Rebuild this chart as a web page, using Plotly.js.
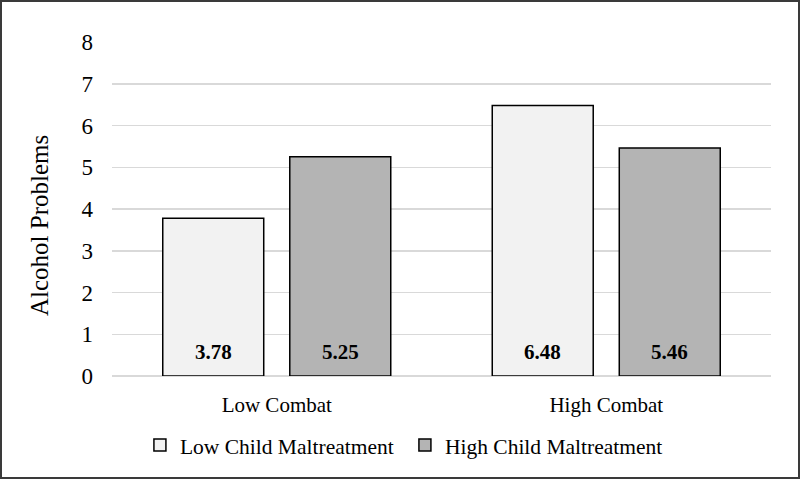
<!DOCTYPE html>
<html>
<head>
<meta charset="utf-8">
<script src="https://cdn.plot.ly/plotly-3.0.1.min.js"></script>
<style>
html,body{margin:0;padding:0;background:#fff;}
#wrap{position:relative;width:800px;height:479px;}
#chart{width:800px;height:479px;}
#frame{position:absolute;left:0;top:0;width:800px;height:479px;box-sizing:border-box;border:2px solid #3a3a3a;pointer-events:none;}
</style>
</head>
<body>
<div id="wrap"><div id="chart"></div><div id="frame"></div></div>
<script>
const categories = ["Low Combat", "High Combat"];
const seriesNames = ["Low Child Maltreatment", "High Child Maltreatment"];
const lowMaltreatment = [3.78, 6.48];
const highMaltreatment = [5.25, 5.46];
const yTicks = [0, 1, 2, 3, 4, 5, 6, 7, 8];
const yTitle = "Alcohol Problems";

const font = "Liberation Serif, Times New Roman, serif";
const traces = [
  {type: "bar", name: seriesNames[0], x: categories, y: lowMaltreatment,
   marker: {color: "#f2f2f2", line: {color: "#000", width: 1.5}}, hoverinfo: "none"},
  {type: "bar", name: seriesNames[1], x: categories, y: highMaltreatment,
   marker: {color: "#b4b4b4", line: {color: "#000", width: 1.5}}, hoverinfo: "none"}
];

const annotations = [];
[lowMaltreatment, highMaltreatment].forEach((vals, si) => {
  vals.forEach((v, ci) => {
    annotations.push({
      x: categories[ci], y: 0, xref: "x", yref: "y",
      xshift: si === 0 ? -63.5 : 63.5, yshift: 24,
      yanchor: "middle", showarrow: false,
      text: "<b>" + v.toFixed(2) + "</b>",
      font: {family: font, size: 21, color: "#000"}
    });
  });
});
annotations.push({
  xref: "paper", yref: "paper", x: 0, y: 0.5, xshift: -73, yshift: -17,
  xanchor: "center", yanchor: "middle", textangle: -90, showarrow: false,
  text: yTitle, font: {family: font, size: 25, color: "#000"}
});

const layout = {
  width: 800, height: 479,
  margin: {l: 112, r: 29, t: 42, b: 103},
  paper_bgcolor: "#fff", plot_bgcolor: "#fff",
  font: {family: font, color: "#000", size: 21},
  barmode: "group", bargap: 0.229, bargroupgap: 0.205,
  showlegend: true,
  legend: {orientation: "h", x: 0.4445, xanchor: "center", y: -0.207, yanchor: "middle",
           font: {family: font, size: 21.5}, itemwidth: 30, traceorder: "normal",
           entrywidth: 220},
  xaxis: {type: "category", showgrid: false, showline: false, ticks: "",
          tickfont: {family: font, size: 21}, zeroline: false, ticklabelstandoff: 14},
  yaxis: {range: [0, 8], tickvals: yTicks, showgrid: true, gridcolor: "#d9d9d9", gridwidth: 1.5,
          zeroline: true, zerolinecolor: "#d9d9d9", zerolinewidth: 1.5, showline: false, ticks: "",
          tickfont: {family: font, size: 23}, ticklabelstandoff: 18},
  annotations: annotations
};
Plotly.newPlot("chart", traces, layout, {displayModeBar: false, staticPlot: true});
</script>
</body>
</html>
